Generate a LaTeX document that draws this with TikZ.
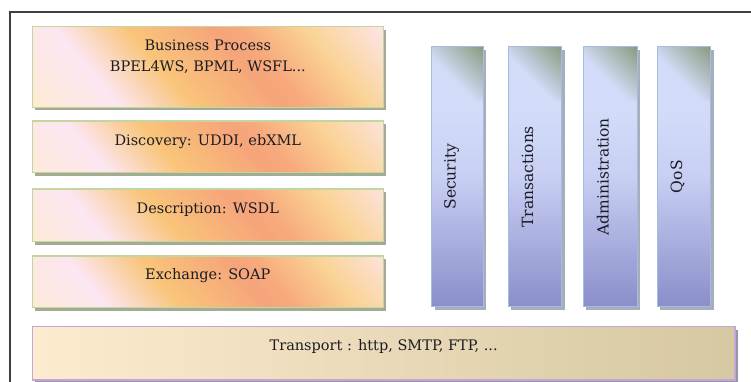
\documentclass[tikz,border=0pt]{standalone}
\usepackage{fontspec}
\setmainfont{DejaVu Serif}
\usetikzlibrary{shadows}
\definecolor{pA}{HTML}{FDEBD6}
\definecolor{pB}{HTML}{FCE6F2}
\definecolor{pC}{HTML}{F9C57A}
\definecolor{pD}{HTML}{F6A47A}
\definecolor{pE}{HTML}{F7A97C}
\definecolor{pF}{HTML}{FAD395}
\definecolor{pG}{HTML}{FDE3E1}
\definecolor{bT}{HTML}{D2DCF9}
\definecolor{bM}{HTML}{C8CFF3}
\definecolor{bB}{HTML}{8A8ECA}
\definecolor{cD}{HTML}{879A7C}
\definecolor{lgBorder}{HTML}{C3D69F}
\definecolor{lgShadow}{HTML}{A3AC92}
\definecolor{barBorder}{HTML}{A3BDDD}
\definecolor{barShadow}{HTML}{A8ADBD}
\definecolor{trBorder}{HTML}{BFA8D6}
\definecolor{trShadow}{HTML}{9C92AE}
\definecolor{trL}{HTML}{FDEBCF}
\definecolor{trM}{HTML}{F0E9D3}
\definecolor{trR}{HTML}{D6C8A2}
\definecolor{frameCol}{HTML}{404040}
\definecolor{txt}{HTML}{1C1C24}
\pgfdeclarehorizontalshading{peach}{100bp}{color(0bp)=(pA); color(30.6bp)=(pA); color(38.4bp)=(pB); color(45.4bp)=(pC); color(53.9bp)=(pD); color(56.2bp)=(pE); color(62.4bp)=(pF); color(69.4bp)=(pG); color(100bp)=(pG)}
\pgfdeclareverticalshading{barshade}{100bp}{color(0bp)=(bB); color(25bp)=(bB); color(50bp)=(bM); color(62bp)=(bT); color(100bp)=(bT)}
\pgfdeclarehorizontalshading{corner}{100bp}{color(0bp)=(bT); color(44bp)=(bT); color(86bp)=(cD); color(100bp)=(cD)}
\newcommand{\mainfs}{\fontsize{14.5}{21}\selectfont}
\newcommand{\barfs}{\fontsize{15.5}{21}\selectfont}
\begin{document}
\begin{tikzpicture}[x=1pt,y=-1pt,
  layerbox/.style={draw=lgBorder, line width=1.2pt, inner sep=0pt, outer sep=0pt,
    minimum width=351pt, font=\mainfs, text=txt,
    general shadow={fill=lgShadow, shadow xshift=3pt, shadow yshift=-3pt},
    path picture={\shade[shading=peach, shading angle=40]
      ([xshift=-200pt,yshift=-200pt]path picture bounding box.center) rectangle
      ([xshift=200pt,yshift=200pt]path picture bounding box.center);}},
  barbox/.style={draw=barBorder, line width=1.2pt, inner sep=0pt, outer sep=0pt,
    minimum height=260pt, font=\barfs, text=txt,
    general shadow={fill=barShadow, shadow xshift=3pt, shadow yshift=-3pt},
    path picture={\shade[shading=barshade]
      (path picture bounding box.south west) rectangle (path picture bounding box.north east);
      \shade[shading=corner, shading angle=45]
      ([xshift=-54pt,yshift=-54pt]path picture bounding box.north east) rectangle
      (path picture bounding box.north east);}},
  transbox/.style={draw=trBorder, line width=1.2pt, inner sep=0pt, outer sep=0pt,
    font=\mainfs, text=txt, left color=trL, middle color=trM, right color=trR,
    general shadow={fill=trShadow, shadow xshift=3pt, shadow yshift=-3pt}},
  framestyle/.style={draw=frameCol, line width=1.4pt}
]
\useasboundingbox (0,0) rectangle (751,382);
\draw[framestyle] (10,392) -- (10,12) -- (760,12);

\node[layerbox, minimum height=80.6pt] (bp) at (207.8,67)
  {\raisebox{-4.7pt}[0pt][0pt]{\begin{tabular}[b]{@{}c@{}}Business Process\\BPEL4WS, BPML, WSFL...\end{tabular}}};
\node[layerbox, minimum height=51.7pt] (disc) at (207.8,146.85)
  {\raisebox{1.3pt}[0pt][0pt]{Discovery: UDDI, ebXML}};
\node[layerbox, minimum height=52.7pt] (desc) at (207.8,215.35)
  {\raisebox{1.5pt}[0pt][0pt]{Description: WSDL}};
\node[layerbox, minimum height=51.7pt] (exch) at (207.8,281.85)
  {\raisebox{2pt}[0pt][0pt]{Exchange: SOAP}};

\node[transbox, minimum width=702.7pt, minimum height=53.3pt] (tr) at (383.65,353.35)
  {\raisebox{2.8pt}[0pt][0pt]{Transport : http, SMTP, FTP, ...}};

\node[barbox, minimum width=51.6pt] (sec) at (457.5,176.7)
  {\rotatebox{90}{\raisebox{1.8pt}[0pt][0pt]{Security}}};
\node[barbox, minimum width=53.4pt] (trn) at (535,176.7)
  {\rotatebox{90}{\raisebox{1.8pt}[0pt][0pt]{Transactions}}};
\node[barbox, minimum width=54pt] (adm) at (610.3,176.7)
  {\rotatebox{90}{\raisebox{1.8pt}[0pt][0pt]{Administration}}};
\node[barbox, minimum width=53.4pt] (qos) at (684,176.7)
  {\rotatebox{90}{\raisebox{1.8pt}[0pt][0pt]{QoS}}};
\end{tikzpicture}
\end{document}
